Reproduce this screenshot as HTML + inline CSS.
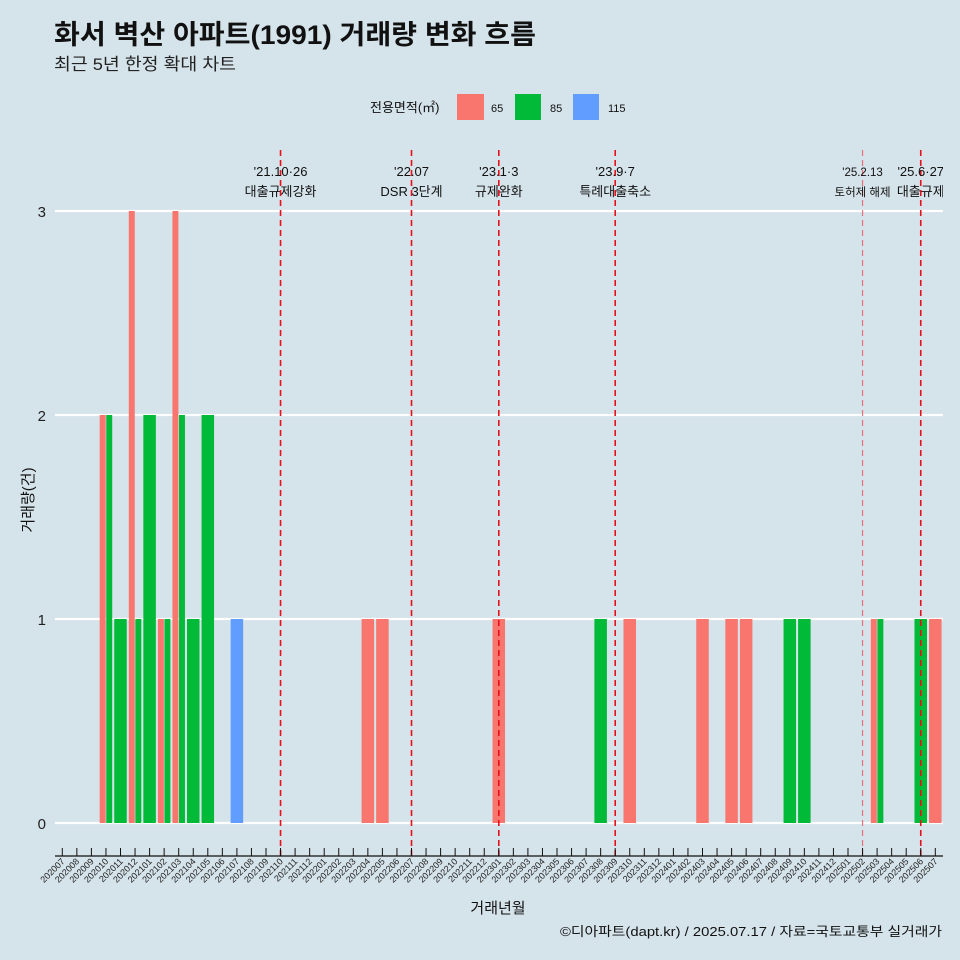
<!DOCTYPE html>
<html><head><meta charset="utf-8"><style>
body{margin:0;background:#d5e3ea;}
svg{display:block;font-family:"Liberation Sans","Noto Sans CJK KR",sans-serif;}
</style></head><body>
<svg id="c" width="960" height="960" viewBox="0 0 960 960">
<rect width="960" height="960" fill="#d5e3ea"/>
<defs><clipPath id="pc"><rect x="55" y="140" width="888" height="720"/></clipPath></defs>
<text x="54" y="44" font-size="27" font-weight="bold" fill="#111" textLength="482" lengthAdjust="spacingAndGlyphs">화서 벽산 아파트(1991) 거래량 변화 흐름</text>
<text x="54" y="70" font-size="17" fill="#222" textLength="182" lengthAdjust="spacingAndGlyphs">최근 5년 한정 확대 차트</text>
<g>
<text x="370" y="112" font-size="13" fill="#111">전용면적(㎡)</text>
<rect x="457" y="94" width="27" height="26" fill="#F8766D"/>
<text x="491" y="112" font-size="11" fill="#111">65</text>
<rect x="515" y="94" width="26" height="26" fill="#00BA38"/>
<text x="550" y="112" font-size="11" fill="#111">85</text>
<rect x="573" y="94" width="26" height="26" fill="#619CFF"/>
<text x="608" y="112" font-size="11" fill="#111">115</text>
</g>
<g id="grid"></g><g id="bars"></g><g id="vl" clip-path="url(#pc)"></g><g id="axis"></g>
<text x="498" y="913" font-size="15" text-anchor="middle" fill="#111">거래년월</text>
<text transform="translate(33,500) rotate(-90)" font-size="15" text-anchor="middle" fill="#111">거래량(건)</text>
<text x="560" y="936" font-size="13" fill="#111" textLength="382" lengthAdjust="spacingAndGlyphs">©디아파트(dapt.kr) / 2025.07.17 / 자료=국토교통부 실거래가</text>
</svg>
<script>
const months=[];for(let y=2020;y<=2025;y++)for(let m=1;m<=12;m++){const k=y*100+m;if(k>=202007&&k<=202507)months.push(String(k));}
const yTicks=[0,1,2,3];
const barMonths=["202010","202010","202011","202012","202012","202101","202102","202102","202103","202103","202104","202105","202107","202204","202205","202301","202308","202310","202403","202405","202406","202409","202410","202503","202503","202506","202507"];
const barSizes=["65","85","85","65","85","85","65","85","65","85","85","85","115","65","65","65","85","65","65","65","65","85","85","65","85","85","65"];
const barCounts=[2,2,1,3,1,2,1,1,3,2,1,2,1,1,1,1,1,1,1,1,1,1,1,1,1,1,1];
const eventMonths=["202110","202207","202301","202309","202502","202506"];
const eventDates=["'21.10·26","'22.07","'23.1·3","'23.9·7","'25.2.13","'25.6·27"];
const eventNames=["대출규제강화","DSR 3단계","규제완화","특례대출축소","토허제 해제","대출규제"];
const colors={"65":"#F8766D","85":"#00BA38","115":"#619CFF"};
const NS="http://www.w3.org/2000/svg";
const x=m=>62.3+months.indexOf(m)*14.55;
const y=v=>823-v*204;
function mk(t,a,p){const e=document.createElementNS(NS,t);for(const k in a)e.setAttribute(k,a[k]);p.appendChild(e);return e;}
const G=document.getElementById('grid'),B=document.getElementById('bars'),V=document.getElementById('vl'),A=document.getElementById('axis');
yTicks.forEach(t=>{const l=mk('line',{x1:55,x2:943,y1:y(t),y2:y(t),stroke:'#fff','stroke-width':2.2},G);


const tx=mk('text',{x:46,y:y(t)+6,'font-size':15,'text-anchor':'end',fill:'#222'},G);tx.textContent=t;

});
const W=13.1;
barMonths.forEach((m,i)=>{const grp=barMonths.map((mm,j)=>mm===m?j:-1).filter(j=>j>=0);const n=grp.length,k=grp.indexOf(i);const w=W/n;
const r=mk('rect',{x:x(m)-W/2+k*w+0.3,y:y(barCounts[i]),width:w-0.6,height:y(0)-y(barCounts[i]),fill:colors[barSizes[i]]},B);

});
eventMonths.forEach((m,i)=>{const faint=m==="202502";
const l=mk('line',{x1:x(m),x2:x(m),y1:150,y2:856,stroke:faint?'#e8707a':'#e8101a','stroke-width':faint?1.2:1.6,'stroke-dasharray':'6,4'},V);


const fs=faint?11.5:13;
const t1=mk('text',{x:x(m),y:176,'font-size':fs,'text-anchor':'middle',fill:'#111'},V);t1.textContent=eventDates[i];


const t2=mk('text',{x:x(m),y:196,'font-size':fs,'text-anchor':'middle',fill:'#111'},V);t2.textContent=eventNames[i];

});
const ax=mk('line',{x1:55,x2:943,y1:856,y2:856,stroke:'#111','stroke-width':1.2},A);


months.forEach(m=>{const tk=mk('line',{x1:x(m),x2:x(m),y1:848,y2:856,stroke:'#111','stroke-width':1},A);


const t=mk('text',{x:x(m)+3,y:862,'font-size':9,'text-anchor':'end',fill:'#222',transform:`rotate(-45 ${x(m)+3} 862)`},A);t.textContent=m;

});
</script>
</body></html>
